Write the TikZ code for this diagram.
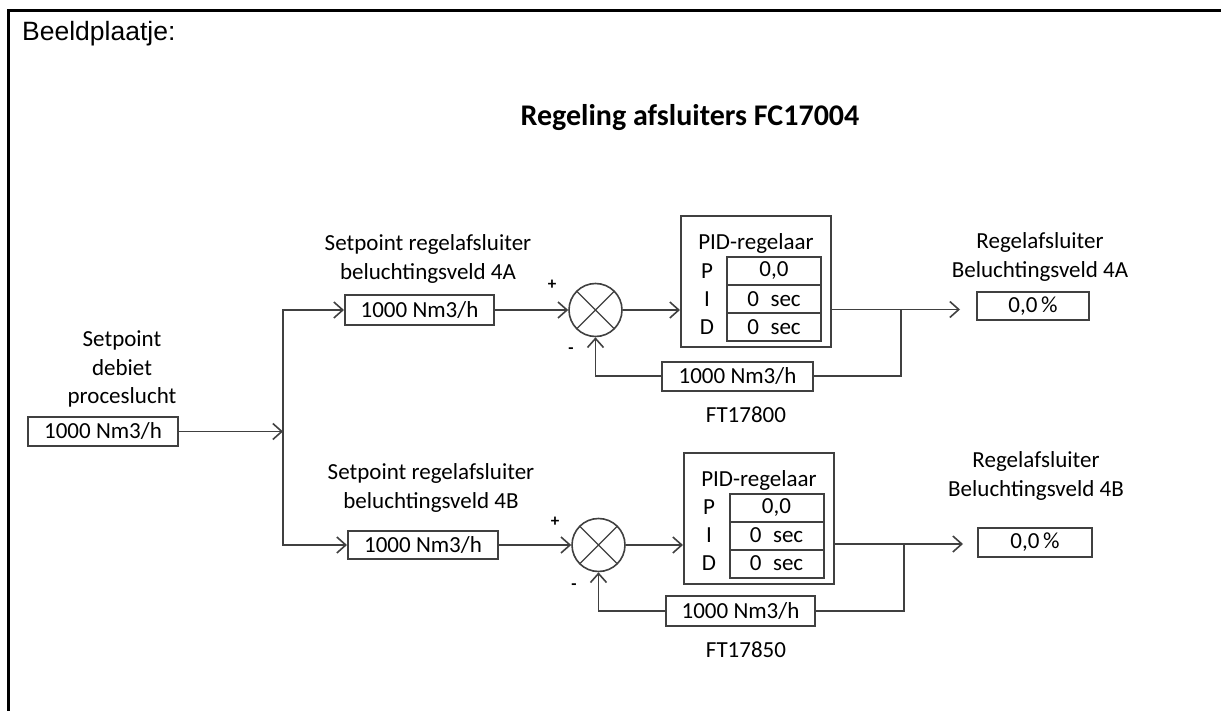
\documentclass[tikz,border=0pt]{standalone}
\usepackage{fontspec}
\setmainfont{Carlito}
\newfontfamily\arialfont{Liberation Sans}
\usetikzlibrary{arrows.meta}
\begin{document}
\begin{tikzpicture}[x=1pt,y=-1pt,
  ln/.style={draw=black!75, line width=1.6pt},
  arr/.style={ln, -{Straight Barb[length=9pt,width=16pt]}},
  txt/.style={font=\fontsize{23}{28.5}\selectfont},
  valbox/.style={txt, draw=black!75, line width=2pt, inner sep=0pt, minimum height=29pt},
  lbl/.style={txt, align=center, inner sep=0pt},
  pidbox/.style={draw=black!75, line width=2pt, minimum width=150pt, minimum height=131pt, inner sep=0pt},
  cell/.style={txt, draw=black!75, line width=2pt, minimum width=94pt, minimum height=28pt, inner sep=0pt},
  sign/.style={font=\fontsize{17}{17}\selectfont\bfseries, inner sep=0pt},
  sumnode/.style={circle, draw=black!75, line width=1.6pt, minimum size=53pt, inner sep=0pt,
    path picture={\draw[black!75, line width=1.4pt]
      (path picture bounding box.north west) -- (path picture bounding box.south east)
      (path picture bounding box.north east) -- (path picture bounding box.south west);}},
]
\useasboundingbox (0,0) rectangle (1221,711);
% frame
\draw[line width=3pt, black] (8.3,711) -- (8.3,11) -- (1221,11);
\node[anchor=base west, font=\arialfont\fontsize{26.5}{30}\selectfont, inner sep=0pt] (hdr) at (22,41) {Beeldplaatje:};
\node[anchor=base, font=\bfseries\fontsize{30}{36}\selectfont, inner sep=0pt] (title) at (690,126) {Regeling afsluiters FC17004};

% source
\node[valbox, minimum width=150pt] (src) at (103,431.5) {1000 Nm3/h};
\node[lbl] (srcl) at (122,369) {Setpoint\\debiet\\proceslucht};
\coordinate (split) at (283,431.5);

% ---- branch A ----
\node[valbox, minimum width=149pt, minimum height=30pt] (spA) at (419.5,310) {1000 Nm3/h};
\node[lbl] (spAl) at (428,259) {Setpoint regelafsluiter\\beluchtingsveld 4A};
\node[sumnode] (sumA) at (595.5,310) {};
\node[sign] (plA) at (552,285) {+};
\node[sign] (miA) at (571,351) {-};
\node[pidbox] (pidA) at (756,281.5) {};
\node[lbl] (pidAt) at (756,243) {PID-regelaar};
\node[cell] (pA) at (774,271) {0,0};
\node[cell] (iA) at (774,299) {0\enskip sec};
\node[cell] (dA) at (774,327) {0\enskip sec};
\node[lbl] (pAl) at (707,271) {P};
\node[lbl] (iAl) at (707,299) {I};
\node[lbl] (dAl) at (707,327) {D};
\node[valbox, minimum width=151pt] (fbA) at (737.5,376) {1000 Nm3/h};
\node[lbl] (ftA) at (746,415) {FT17800};
\node[lbl] (outAl) at (1040,257) {Regelafsluiter\\Beluchtingsveld 4A};
\node[valbox, minimum width=112pt, minimum height=28pt] (outA) at (1033,306) {0,0\,\%};
\coordinate (jA) at (901,309.5);
\coordinate (tipA) at (960,309.5);

% ---- branch B ----
\node[valbox, minimum width=150pt, minimum height=28pt] (spB) at (423,545) {1000 Nm3/h};
\node[lbl] (spBl) at (431,488) {Setpoint regelafsluiter\\beluchtingsveld 4B};
\node[sumnode] (sumB) at (598.5,545) {};
\node[sign] (plB) at (555,522) {+};
\node[sign] (miB) at (574,587) {-};
\node[pidbox] (pidB) at (759,518.5) {};
\node[lbl] (pidBt) at (759,480) {PID-regelaar};
\node[cell] (pB) at (776.5,507.5) {0,0};
\node[cell] (iB) at (776.5,535.5) {0\enskip sec};
\node[cell] (dB) at (776.5,563.5) {0\enskip sec};
\node[lbl] (pBl) at (709,507.5) {P};
\node[lbl] (iBl) at (709,535.5) {I};
\node[lbl] (dBl) at (709,563.5) {D};
\node[valbox, minimum width=149pt, minimum height=30pt] (fbB) at (740.5,611) {1000 Nm3/h};
\node[lbl] (ftB) at (746,650) {FT17850};
\node[lbl] (outBl) at (1036,476) {Regelafsluiter\\Beluchtingsveld 4B};
\node[valbox, minimum width=114pt] (outB) at (1035,542) {0,0\,\%};
\coordinate (jB) at (904,544);
\coordinate (tipB) at (963,544);

% connectors
\draw[arr] (src.east) -- (split);
\draw[arr] (split) |- (spA.west);
\draw[arr] (split) |- (spB.west);

\draw[arr] (spA.east) -- (sumA.west);
\draw[arr] (sumA.east) -- (pidA.west |- sumA.east);
\draw[arr] (pidA.east |- jA) -- (tipA);
\draw[ln] (jA) |- (fbA.east);
\draw[arr] (fbA.west) -| (sumA.south);

\draw[arr] (spB.east) -- (sumB.west);
\draw[arr] (sumB.east) -- (pidB.west |- sumB.east);
\draw[arr] (pidB.east |- jB) -- (tipB);
\draw[ln] (jB) |- (fbB.east);
\draw[arr] (fbB.west) -| (sumB.south);
\end{tikzpicture}
\end{document}
